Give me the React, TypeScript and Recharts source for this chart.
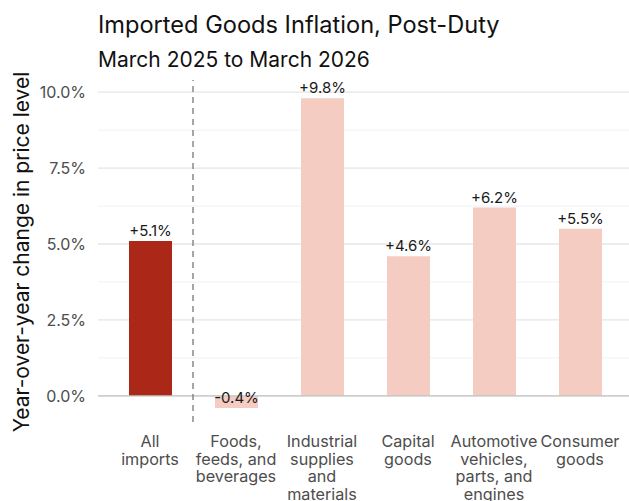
import React from "react";
import { BarChart, Bar, XAxis, YAxis, CartesianGrid, ReferenceLine, Cell, LabelList } from "recharts";

const categories = [
  "All imports",
  "Foods, feeds, and beverages",
  "Industrial supplies and materials",
  "Capital goods",
  "Automotive vehicles, parts, and engines",
  "Consumer goods",
];
const tickLines = [
  ["All", "imports"],
  ["Foods,", "feeds, and", "beverages"],
  ["Industrial", "supplies", "and", "materials"],
  ["Capital", "goods"],
  ["Automotive", "vehicles,", "parts, and", "engines"],
  ["Consumer", "goods"],
];
const values = [5.1, -0.4, 9.8, 4.6, 6.2, 5.5];
const highlighted = [true, false, false, false, false, false];
const yTicks = [0, 2.5, 5, 7.5, 10];
const minorTicks = [1.25, 3.75, 6.25, 8.75];
const yDomain = [-0.86, 10.4];

const TITLE = "Imported Goods Inflation, Post-Duty";
const SUBTITLE = "March 2025 to March 2026";
const Y_LABEL = "Year-over-year change in price level";

const data = categories.map((c, i) => ({ name: c, value: values[i], idx: i }));

const FONT = "Inter, 'Noto Sans', sans-serif";
const DARK = "#AB2818";
const LIGHT = "#F4CCC2";

const fmt = (v: number) => (v >= 0 ? "+" : "") + v.toFixed(1) + "%";

const XTick = (props: any) => {
  const { x, y, payload } = props;
  const idx = categories.indexOf(payload.value);
  const lines = tickLines[idx] || [payload.value];
  return (
    <text x={x} y={y + 25} textAnchor="middle" fill="#4d4d4d" fontSize={16.2} fontFamily={FONT}>
      {lines.map((l, i) => (
        <tspan key={i} x={x} dy={i === 0 ? 0 : 17.5}>
          {l}
        </tspan>
      ))}
    </text>
  );
};

const ValueLabel = (props: any) => {
  const { x, y, width, height, value } = props;
  const top = Math.min(y, y + height);
  const bottom = Math.max(y, y + height);
  const yy = value >= 0 ? top : bottom;
  return (
    <text x={x + width / 2} y={yy - 5} textAnchor="middle" fill="#1a1a1a" fontSize={15} fontFamily={FONT}>
      {fmt(value)}
    </text>
  );
};

export default function App() {
  return (
    <div style={{ position: "absolute", left: 0, top: 0, width: 629, height: 501, background: "#fff", fontFamily: FONT }}>
      <BarChart
        width={629}
        height={501}
        data={data}
        margin={{ top: 80, right: 0, left: 0, bottom: 0 }}
        barSize={43}
      >
        <CartesianGrid horizontalValues={minorTicks} vertical={false} stroke="#f1f1f1" strokeWidth={1} />
        <CartesianGrid horizontalValues={yTicks} vertical={false} stroke="#e6e6e6" strokeWidth={1.3} />
        <XAxis
          dataKey="name"
          type="category"
          interval={0}
          padding={{ left: 9, right: 6 }}
          height={79}
          tickLine={false}
          axisLine={false}
          tickSize={0}
          tickMargin={0}
          tick={<XTick />}
        />
        <YAxis
          type="number"
          domain={yDomain}
          ticks={yTicks}
          allowDataOverflow
          width={98}
          tickLine={false}
          axisLine={false}
          tickSize={0}
          tickMargin={12}
          tickFormatter={(v: number) => v.toFixed(1) + "%"}
          tick={{ fill: "#4d4d4d", fontSize: 16, fontFamily: FONT }}
        />
        <Bar dataKey="value" isAnimationActive={false}>
          {data.map((d, i) => (
            <Cell key={i} fill={highlighted[i] ? DARK : LIGHT} />
          ))}
          <LabelList dataKey="value" content={<ValueLabel />} />
        </Bar>
        <ReferenceLine y={0} stroke="#c4c4c4" strokeWidth={1.3} />
        <ReferenceLine x={categories[0]} position="end" stroke="#777" strokeWidth={1.3} strokeDasharray="6 5" />
      </BarChart>
      <svg width={629} height={501} style={{ position: "absolute", left: 0, top: 0, pointerEvents: "none" }}>
        <text x={98} y={33} fontSize={23.6} fill="#111" fontFamily={FONT}>{TITLE}</text>
        <text x={98} y={67} fontSize={21} fill="#111" fontFamily={FONT}>{SUBTITLE}</text>
        <text
          transform="translate(29, 252) rotate(-90)"
          textAnchor="middle"
          fontSize={21}
          fill="#111"
          fontFamily={FONT}
        >
          {Y_LABEL}
        </text>
      </svg>
    </div>
  );
}
